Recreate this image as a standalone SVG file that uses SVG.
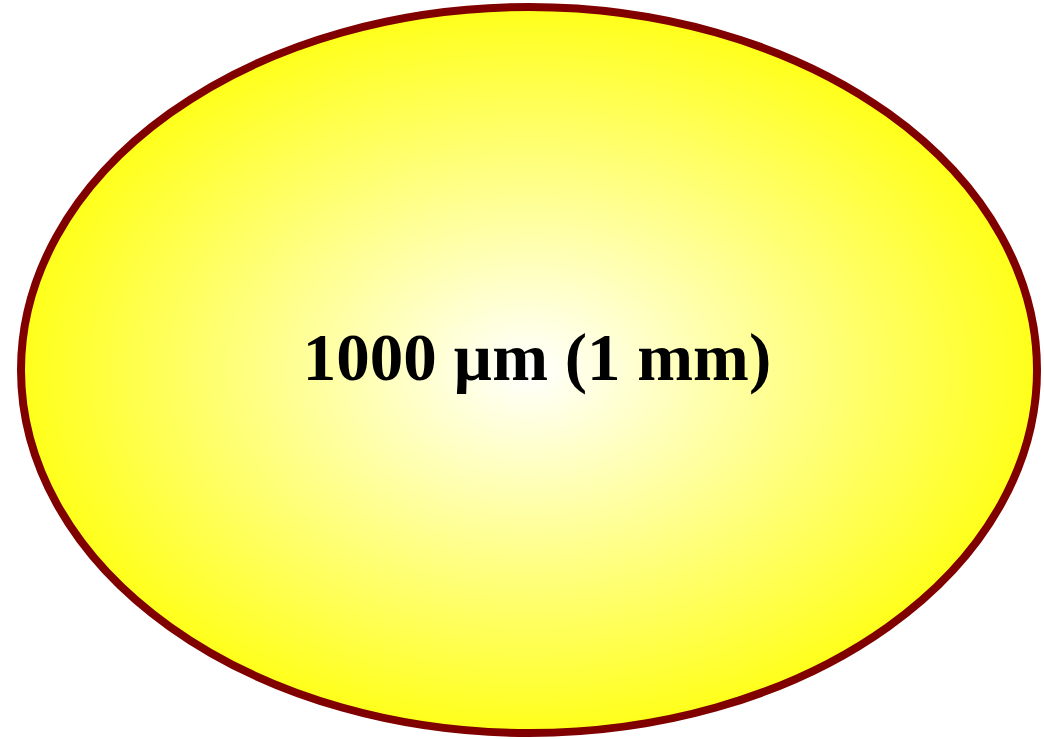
<svg xmlns="http://www.w3.org/2000/svg" width="1044" height="739" viewBox="0 0 1044 739">
<defs>
<radialGradient id="g" cx="50%" cy="50%" r="50%">
<stop offset="0" stop-color="#ffffff"/>
<stop offset="1" stop-color="#ffff1a"/>
</radialGradient>
<style>
.n{fill:url(#g);stroke:#800000;stroke-width:8}
.t{font-family:"Liberation Serif",serif;font-weight:bold;font-size:67px;fill:#000;text-anchor:middle}
</style>
</defs>
<rect width="1044" height="739" fill="#fff"/>
<g id="node1">
<ellipse class="n" cx="529" cy="370" rx="508" ry="363"/>
<text class="t" x="537" y="380">1000 µm (1 mm)</text>
</g>
<g id="connectors"/>
</svg>
